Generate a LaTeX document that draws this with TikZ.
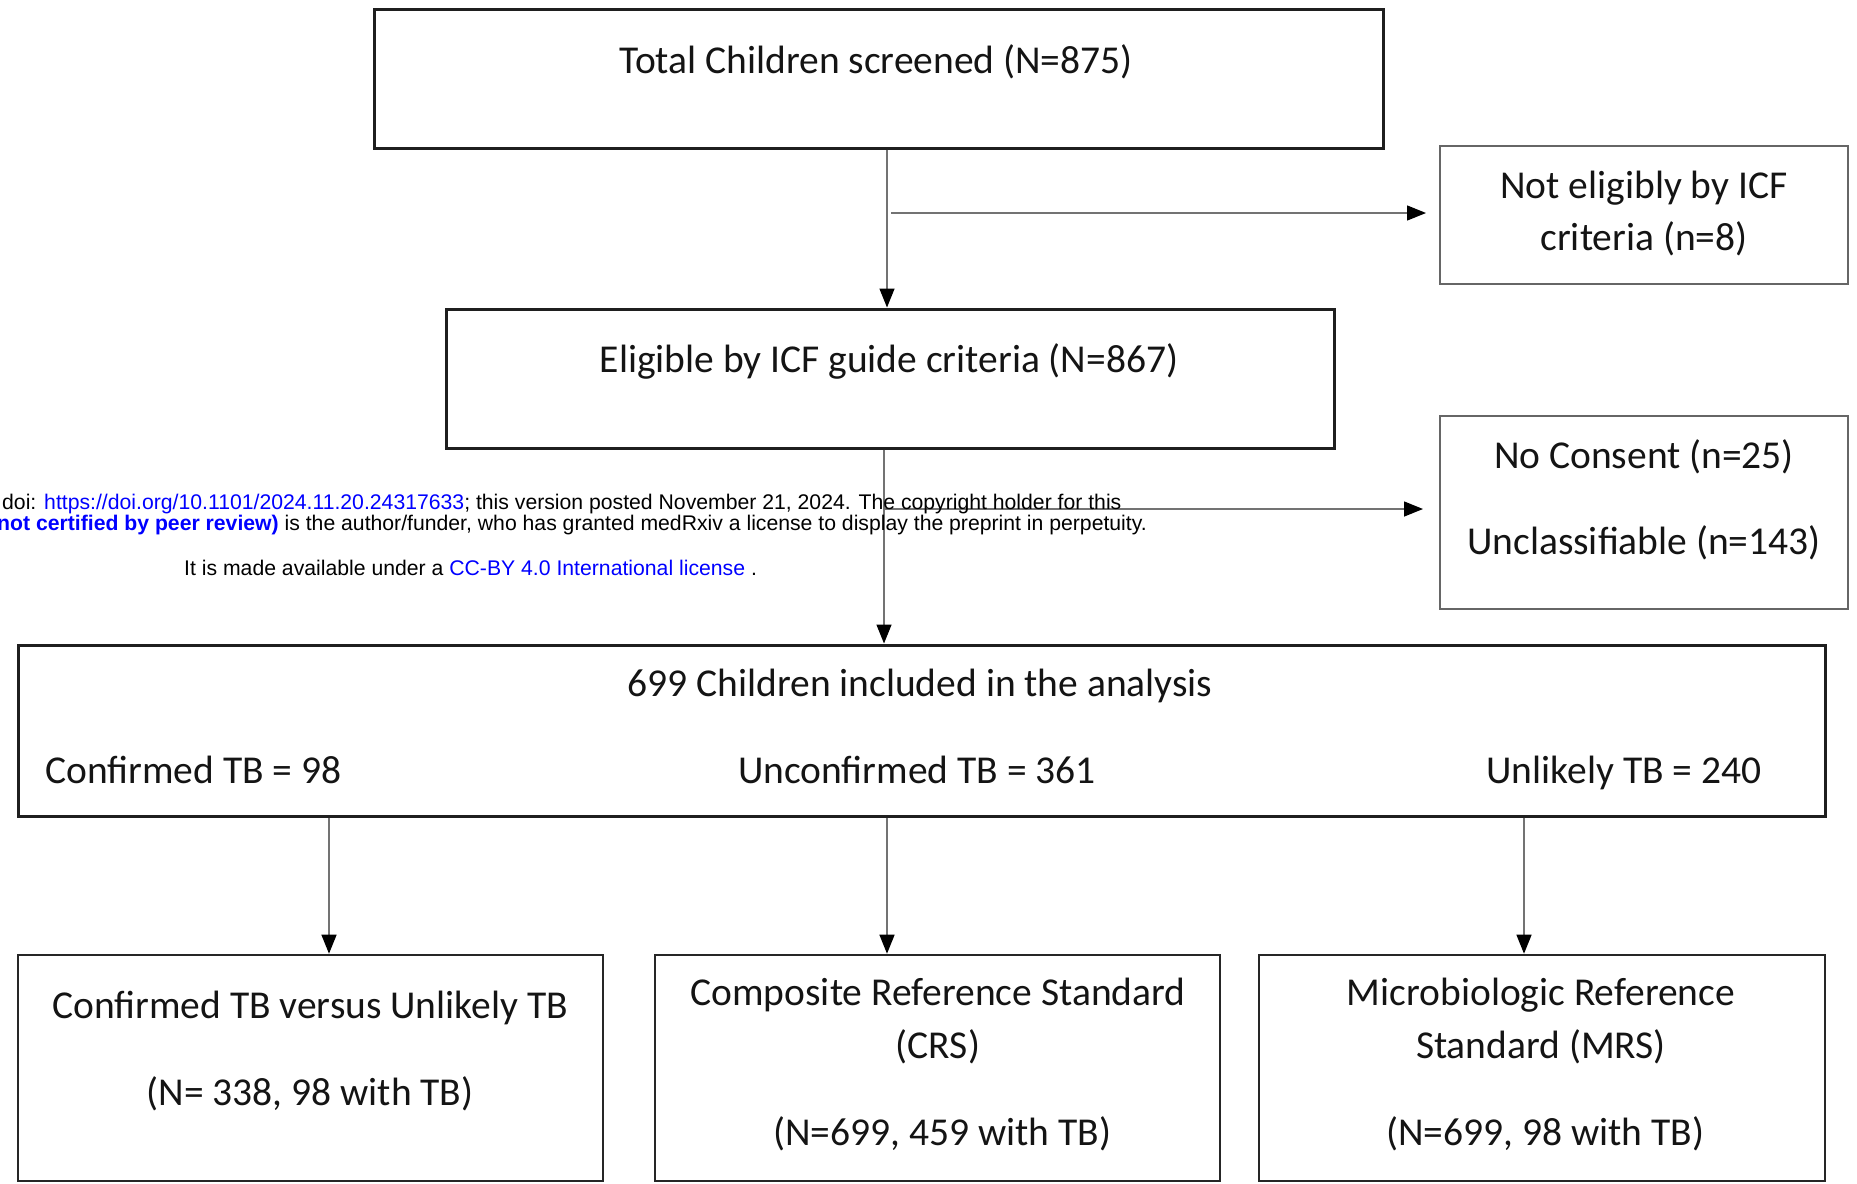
\documentclass[tikz,border=0pt]{standalone}
\usepackage{fontspec}
\setmainfont{Carlito}
\newfontfamily\wmfont{Liberation Sans}
\usetikzlibrary{arrows.meta}
\definecolor{wmblue}{RGB}{0,0,255}
\begin{document}
\begin{tikzpicture}[x=1pt,y=-1pt,
  mainbox/.style={draw=black!88,line width=3pt,rectangle,inner sep=0pt},
  sidebox/.style={draw=black!60,line width=2pt,rectangle,inner sep=0pt},
  lowbox/.style={draw=black!85,line width=2.6pt,rectangle,inner sep=0pt},
  txt/.style={font=\fontsize{39.5}{46}\selectfont,inner sep=0pt,text=black!92,text height=35pt,text depth=8pt},
  conn/.style={draw=black!55,line width=1.4pt,-{Triangle[length=19pt,width=15pt,color=black]}},
  wm/.style={font=\wmfont\fontsize{21.2}{25}\selectfont,inner sep=0pt,anchor=west}]
\fill[white] (0,0) rectangle (1857,1183);
\useasboundingbox (0,0) rectangle (1857,1183);
% boxes
\node[mainbox,minimum width=1009pt,minimum height=139pt] (b1) at (878.5,78.5) {};
\node[sidebox,minimum width=408pt,minimum height=138pt] (r1) at (1644,215) {};
\node[mainbox,minimum width=888pt,minimum height=139pt] (b2) at (890,378.5) {};
\node[sidebox,minimum width=408pt,minimum height=193pt] (r2) at (1644,512.5) {};
\node[mainbox,minimum width=1807pt,minimum height=171pt] (b3) at (921.5,730.5) {};
\node[lowbox,minimum width=585pt,minimum height=226pt] (c1) at (310.5,1068) {};
\node[lowbox,minimum width=565pt,minimum height=226pt] (c2) at (937.5,1068) {};
\node[lowbox,minimum width=566pt,minimum height=226pt] (c3) at (1542,1068) {};
% texts
\node[txt] (t1) at (876,60) {Total Children screened (N=875)};
\node[txt] (t2a) at (1644,185) {Not eligibly by ICF};
\node[txt] (t2b) at (1644,237) {criteria (n=8)};
\node[txt] (t3) at (889,359) {Eligible by ICF guide criteria (N=867)};
\node[txt] (t4a) at (1644,455) {No Consent (n=25)};
\node[txt] (t4b) at (1644,541) {Unclassifiable (n=143)};
\node[txt] (t5) at (920,683) {699 Children included in the analysis};
\node[txt,anchor=west] (t6) at (45,770) {Confirmed TB = 98};
\node[txt] (t7) at (917,770) {Unconfirmed TB = 361};
\node[txt] (t8) at (1624,770) {Unlikely TB = 240};
\node[txt] (t9a) at (310,1005) {Confirmed TB versus Unlikely TB};
\node[txt] (t9b) at (310,1092) {(N= 338, 98 with TB)};
\node[txt] (t10a) at (938,992) {Composite Reference Standard};
\node[txt] (t10b) at (938,1045) {(CRS)};
\node[txt] (t10c) at (942,1132) {(N=699, 459 with TB)};
\node[txt] (t11a) at (1541,992) {Microbiologic Reference};
\node[txt] (t11b) at (1541,1045) {Standard (MRS)};
\node[txt] (t11c) at (1545,1132) {(N=699, 98 with TB)};
% connectors
\coordinate (xa) at (887,0);
\coordinate (xb) at (884,0);
\coordinate (xl) at (329,0);
\coordinate (xr) at (1524,0);
\coordinate (s1) at (891,213);
\coordinate (s2) at (884,509);
\draw[conn] (b1.south -| xa) -- (b2.north -| xa);
\draw[conn,shorten >=13pt] (s1) -- (r1.west |- s1);
\draw[conn] (b2.south -| xb) -- (b3.north -| xb);
\draw[conn,shorten >=16pt] (s2) -- (r2.west |- s2);
\draw[conn] (b3.south -| xl) -- (c1.north -| xl);
\draw[conn] (b3.south -| xa) -- (c2.north -| xa);
\draw[conn] (b3.south -| xr) -- (c3.north -| xr);
% watermark
\node[wm] (w1) at (2,504) {doi: \textcolor{wmblue}{https://doi.org/10.1101/2024.11.20.24317633}; this version posted November 21, 2024. The copyright holder for this};
\node[wm] (w2) at (-3,525) {\textcolor{wmblue}{\bfseries not certified by peer review)} is the author/funder, who has granted medRxiv a license to display the preprint in perpetuity.};
\node[wm] (w3) at (184,568) {It is made available under a \textcolor{wmblue}{CC-BY 4.0 International license} .};
\end{tikzpicture}
\end{document}
